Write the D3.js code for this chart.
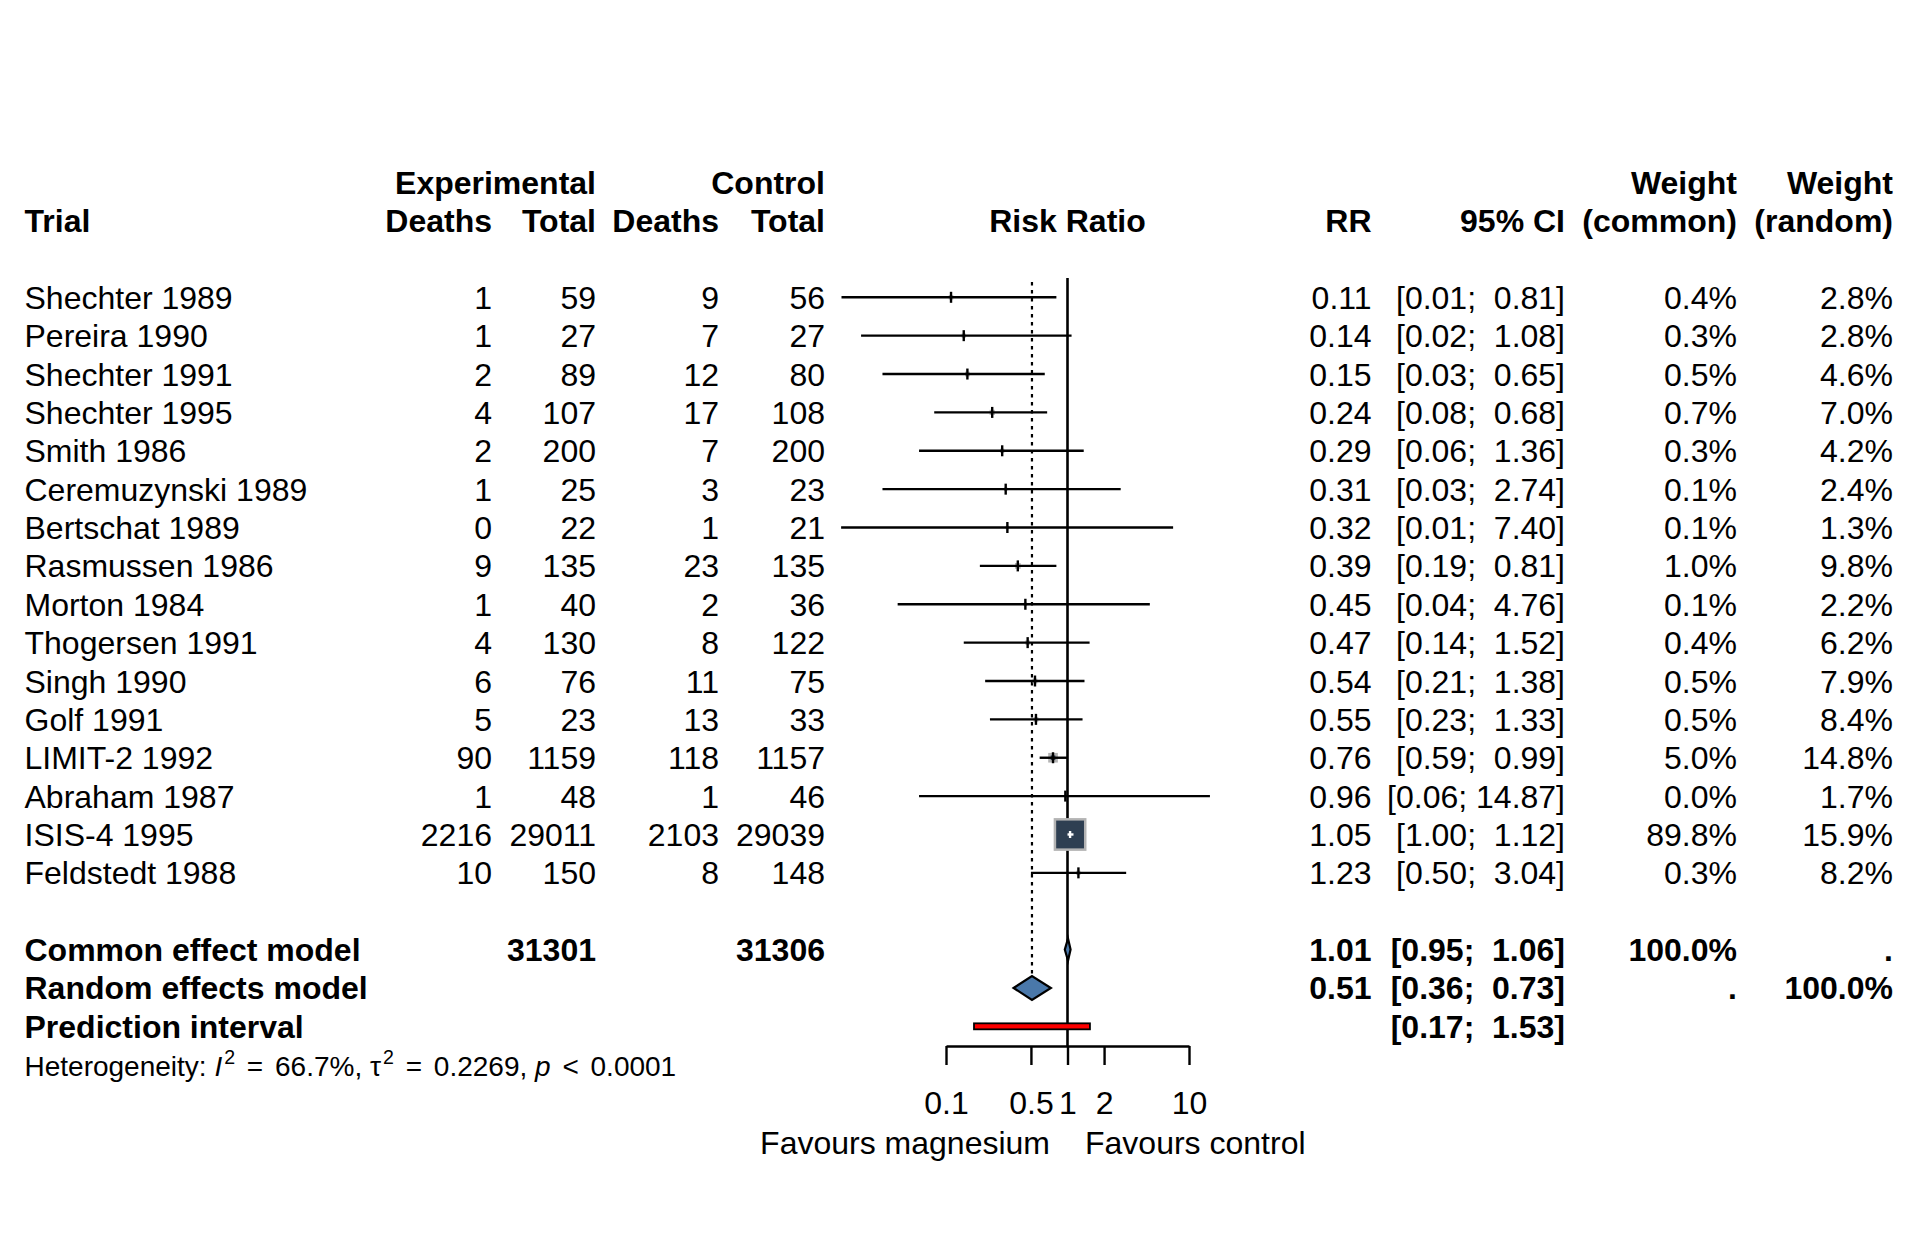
<!DOCTYPE html>
<html>
<head>
<meta charset="utf-8">
<script src="https://cdn.jsdelivr.net/npm/d3@7"></script>
<style>
  body { margin: 0; background: #fff; }
  svg text { font-family: "Liberation Sans", Arial, Helvetica, sans-serif; font-size: 32px; fill: #000; white-space: pre; }
  svg text.b { font-weight: bold; }
</style>
</head>
<body>
<svg id="chart" width="1920" height="1248"></svg>
<script>
// ── Data ──────────────────────────────────────────────────────────────────────
const studies = ["Shechter 1989", "Pereira 1990", "Shechter 1991", "Shechter 1995", "Smith 1986",
  "Ceremuzynski 1989", "Bertschat 1989", "Rasmussen 1986", "Morton 1984", "Thogersen 1991",
  "Singh 1990", "Golf 1991", "LIMIT-2 1992", "Abraham 1987", "ISIS-4 1995", "Feldstedt 1988"];
const expDeaths = [1, 1, 2, 4, 2, 1, 0, 9, 1, 4, 6, 5, 90, 1, 2216, 10];
const expTotal = [59, 27, 89, 107, 200, 25, 22, 135, 40, 130, 76, 23, 1159, 48, 29011, 150];
const ctrlDeaths = [9, 7, 12, 17, 7, 3, 1, 23, 2, 8, 11, 13, 118, 1, 2103, 8];
const ctrlTotal = [56, 27, 80, 108, 200, 23, 21, 135, 36, 122, 75, 33, 1157, 46, 29039, 148];
const rr = [0.11, 0.14, 0.15, 0.24, 0.29, 0.31, 0.32, 0.39, 0.45, 0.47, 0.54, 0.55, 0.76, 0.96, 1.05, 1.23];
const lower = [0.0138, 0.02, 0.03, 0.08, 0.06, 0.03, 0.0137, 0.19, 0.04, 0.14, 0.21, 0.23, 0.59, 0.06, 1.00, 0.50];
const upper = [0.81, 1.08, 0.65, 0.68, 1.36, 2.74, 7.40, 0.81, 4.76, 1.52, 1.38, 1.33, 0.99, 14.87, 1.12, 3.04];
const wCommon = [0.4, 0.3, 0.5, 0.7, 0.3, 0.1, 0.1, 1.0, 0.1, 0.4, 0.5, 0.5, 5.0, 0.0, 89.8, 0.3];
const wRandom = [2.8, 2.8, 4.6, 7.0, 4.2, 2.4, 1.3, 9.8, 2.2, 6.2, 7.9, 8.4, 14.8, 1.7, 15.9, 8.2];

// pooled results
const summaryLabels = ["Common effect model", "Random effects model", "Prediction interval"];
const summaryTotals = [[31301, 31306], null, null];
const summaryRR = [1.01, 0.51, null];
const summaryLower = [0.95, 0.36, 0.17];
const summaryUpper = [1.06, 0.73, 1.53];
const summaryWCommon = ["100.0%", ".", null];
const summaryWRandom = [".", "100.0%", null];

const axisTicks = [0.1, 0.5, 1, 2, 10];

// ── Layout ────────────────────────────────────────────────────────────────────
const svg = d3.select("#chart");
const row = d3.scaleLinear().domain([0, 1]).range([297.3, 335.67]); // row index -> centre y
const base = (i) => row(i) + 11.5;                                    // text baseline
const x = d3.scaleLog().domain([0.1, 10]).range([946, 1189]);
const sq = d3.scaleSqrt().domain([0, 89.8]).range([0, 30.3]);
const lw = 2.4;

const col = { trial: 24.5, eD: 492, eT: 596, cD: 719, cT: 825, rr: 1371.5, ci: 1565, wc: 1737, wr: 1893 };
const f2 = d3.format(".2f");
const pct = (v) => d3.format(".1f")(v) + "%";
const ciText = (lo, hi) => "[" + f2(lo) + "; " + f2(hi).padStart(5, " ") + "]";

function txt(xp, yp, s, anchor, bold) {
  return svg.append("text").attr("x", xp).attr("y", yp)
    .attr("text-anchor", anchor || "start")
    .attr("class", bold ? "b" : null)
    .text(s);
}

// ── Header ────────────────────────────────────────────────────────────────────
const h1 = base(-3), h2 = base(-2);
txt(col.eT, h1, "Experimental", "end", true);
txt(col.cT, h1, "Control", "end", true);
txt(col.wc, h1, "Weight", "end", true);
txt(col.wr, h1, "Weight", "end", true);
txt(col.trial, h2, "Trial", "start", true);
txt(col.eD, h2, "Deaths", "end", true);
txt(col.eT, h2, "Total", "end", true);
txt(col.cD, h2, "Deaths", "end", true);
txt(col.cT, h2, "Total", "end", true);
txt(x(1), h2, "Risk Ratio", "middle", true);
txt(col.rr, h2, "RR", "end", true);
txt(col.ci, h2, "95% CI", "end", true);
txt(col.wc, h2, "(common)", "end", true);
txt(col.wr, h2, "(random)", "end", true);

// ── Reference lines ───────────────────────────────────────────────────────────
const yTop = row(0) - 19.2;
svg.append("line").attr("x1", x(1)).attr("x2", x(1)).attr("y1", yTop).attr("y2", 1046)
  .attr("stroke", "#000").attr("stroke-width", 2.6);
svg.append("line").attr("x1", x(summaryRR[1])).attr("x2", x(summaryRR[1]))
  .attr("y1", yTop + 4).attr("y2", row(18) - 12)
  .attr("stroke", "#000").attr("stroke-width", 2.2).attr("stroke-dasharray", "3.5,4.5");

// ── Study rows ────────────────────────────────────────────────────────────────
studies.forEach((name, i) => {
  const yb = base(i);
  txt(col.trial, yb, name);
  txt(col.eD, yb, expDeaths[i], "end");
  txt(col.eT, yb, expTotal[i], "end");
  txt(col.cD, yb, ctrlDeaths[i], "end");
  txt(col.cT, yb, ctrlTotal[i], "end");
  txt(col.rr, yb, f2(rr[i]), "end");
  txt(col.ci, yb, ciText(lower[i], upper[i]), "end");
  txt(col.wc, yb, pct(wCommon[i]), "end");
  txt(col.wr, yb, pct(wRandom[i]), "end");
});

const g = svg.append("g");
studies.forEach((name, i) => {
  const cy = row(i), cx = x(rr[i]), s = sq(wCommon[i]);
  if (s > 0) {
    g.append("rect").attr("x", cx - s / 2).attr("y", cy - s / 2).attr("width", s).attr("height", s)
      .attr("fill", "#2e3f52").attr("stroke", "#b4b4b4").attr("stroke-width", 2.5);
  }
  // CI drawn white when it sits completely inside the square
  const inside = x(lower[i]) > cx - s / 2 && x(upper[i]) < cx + s / 2;
  const c = inside ? "#fff" : "#000";
  const th = inside ? 3.5 : 5.5;
  g.append("line").attr("x1", x(lower[i])).attr("x2", x(upper[i])).attr("y1", cy).attr("y2", cy)
    .attr("stroke", c).attr("stroke-width", lw);
  g.append("line").attr("x1", cx).attr("x2", cx).attr("y1", cy - th).attr("y2", cy + th)
    .attr("stroke", c).attr("stroke-width", lw);
});

// ── Pooled estimates ──────────────────────────────────────────────────────────
summaryLabels.forEach((lab, k) => {
  const i = 17 + k, yb = base(i);
  txt(col.trial, yb, lab, "start", true);
  if (summaryTotals[k]) {
    txt(col.eT, yb, summaryTotals[k][0], "end", true);
    txt(col.cT, yb, summaryTotals[k][1], "end", true);
  }
  if (summaryRR[k] != null) txt(col.rr, yb, f2(summaryRR[k]), "end", true);
  txt(col.ci, yb, ciText(summaryLower[k], summaryUpper[k]), "end", true);
  if (summaryWCommon[k]) txt(col.wc, yb, summaryWCommon[k], "end", true);
  if (summaryWRandom[k]) txt(col.wr, yb, summaryWRandom[k], "end", true);
});

[0, 1].forEach((k) => {
  const cy = row(17 + k), hh = k === 0 ? 11 : 12;
  const pts = [[x(summaryLower[k]), cy], [x(summaryRR[k]), cy - hh], [x(summaryUpper[k]), cy], [x(summaryRR[k]), cy + hh]];
  svg.append("path").attr("d", d3.line()(pts) + "Z")
    .attr("fill", "#4a78aa").attr("stroke", "#000").attr("stroke-width", 2.2);
});

const py = row(19);
svg.append("rect").attr("x", x(summaryLower[2])).attr("y", py - 3)
  .attr("width", x(summaryUpper[2]) - x(summaryLower[2])).attr("height", 6)
  .attr("fill", "#ff0000").attr("stroke", "#000").attr("stroke-width", 1.8);

// ── Heterogeneity ─────────────────────────────────────────────────────────────
const het = svg.append("text").attr("x", col.trial).attr("y", row(20) + 11).style("font-size", "28px");
het.append("tspan").text("Heterogeneity: ");
het.append("tspan").style("font-style", "italic").text("I");
het.append("tspan").attr("dx", 2).attr("dy", -12).style("font-size", "19.6px").text("2");
het.append("tspan").attr("dx", 4).attr("dy", 12).text(" = ");
het.append("tspan").attr("dx", 4).text("66.7%, \u03c4");
het.append("tspan").attr("dx", 2).attr("dy", -12).style("font-size", "19.6px").text("2");
het.append("tspan").attr("dx", 4).attr("dy", 12).text(" = ");
het.append("tspan").attr("dx", 4).text("0.2269, ");
het.append("tspan").style("font-style", "italic").text("p");
het.append("tspan").attr("dx", 4).text(" < ");
het.append("tspan").attr("dx", 4).text("0.0001");

// ── Axis ──────────────────────────────────────────────────────────────────────
const ax = svg.append("g").attr("transform", "translate(0,1046)")
  .call(d3.axisBottom(x).tickValues(axisTicks).tickFormat((d) => String(d)).tickSize(19).tickSizeOuter(0));
ax.attr("font-size", null).attr("font-family", null);
ax.select(".domain").attr("stroke-width", lw);
ax.selectAll(".tick line").attr("stroke-width", lw);
ax.selectAll(".tick text").attr("y", 68).attr("dy", 0);

txt(x(1) - 17.5, 1154, "Favours magnesium", "end");
txt(x(1) + 17.5, 1154, "Favours control", "start");
</script>
</body>
</html>
